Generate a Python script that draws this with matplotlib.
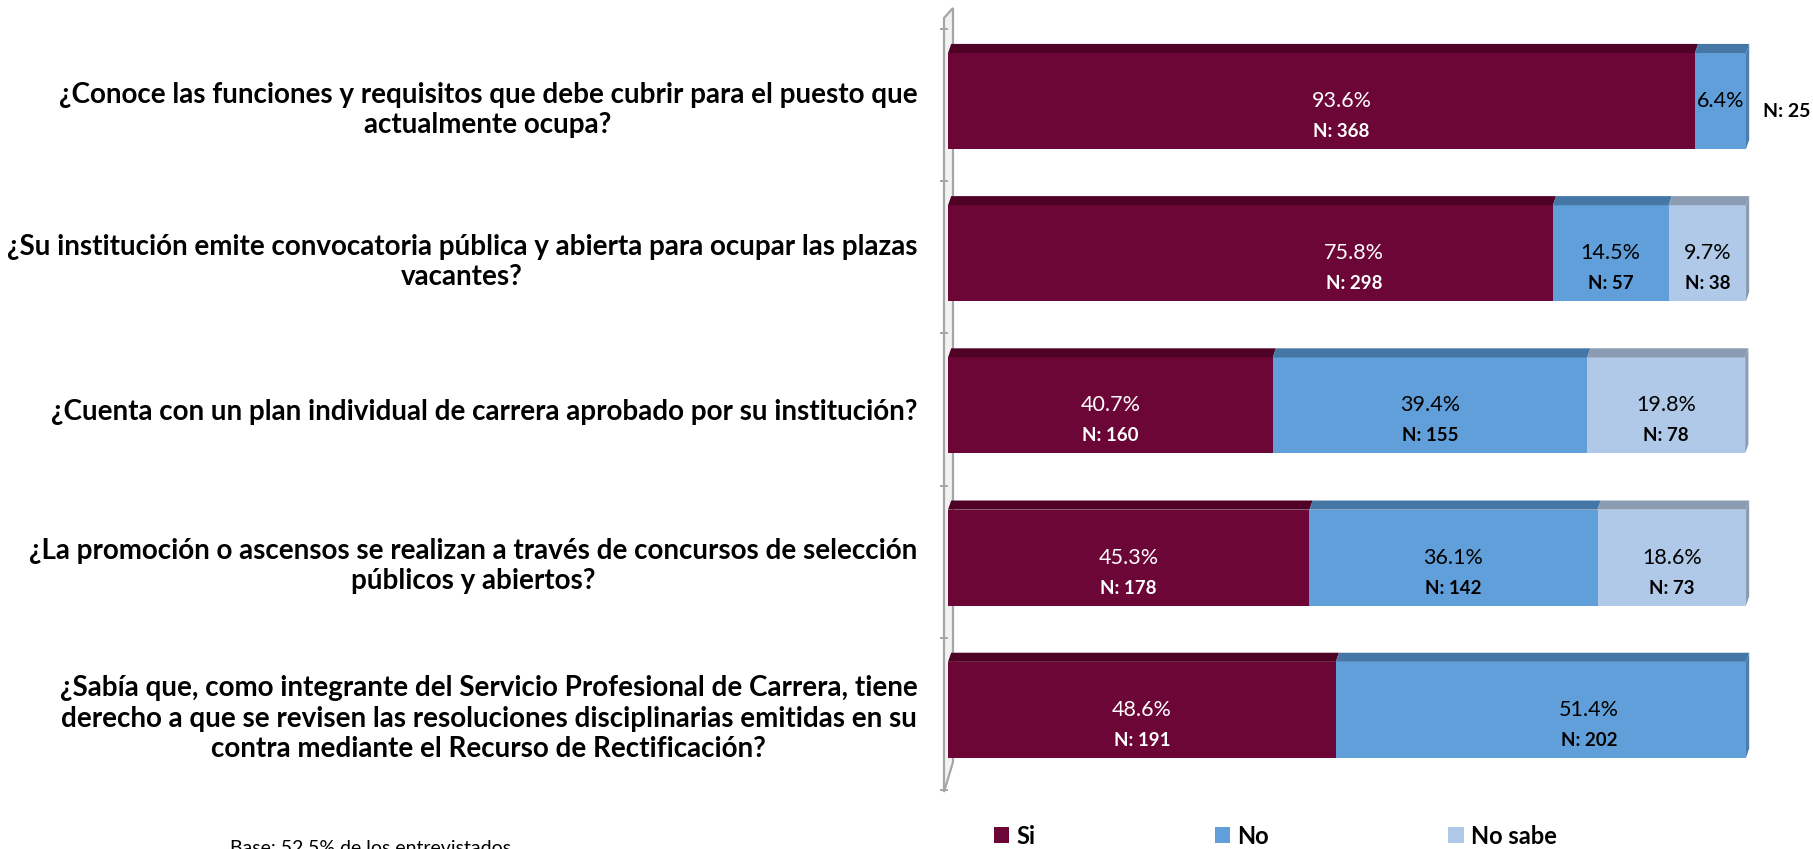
import matplotlib
matplotlib.use("Agg")
import matplotlib.pyplot as plt
from matplotlib.patches import Polygon, Patch
import numpy as np

# ---------------- data ----------------
questions = [
    "¿Conoce las funciones y requisitos que debe cubrir para el puesto que\nactualmente ocupa?",
    "¿Su institución emite convocatoria pública y abierta para ocupar las plazas\nvacantes?",
    "¿Cuenta con un plan individual de carrera aprobado por su institución?",
    "¿La promoción o ascensos se realizan a través de concursos de selección\npúblicos y abiertos?",
    "¿Sabía que, como integrante del Servicio Profesional de Carrera, tiene\nderecho a que se revisen las resoluciones disciplinarias emitidas en su\ncontra mediante el Recurso de Rectificación?",
]
series_names = ["Si", "No", "No sabe"]
pct_si = [93.6, 75.8, 40.7, 45.3, 48.6]
pct_no = [6.4, 14.5, 39.4, 36.1, 51.4]
pct_ns = [0.0, 9.7, 19.8, 18.6, 0.0]
n_si = [368, 298, 160, 178, 191]
n_no = [25, 57, 155, 142, 202]
n_ns = [0, 38, 78, 73, 0]
base_note = "Base: 52.5% de los entrevistados"

# ---------------- style ----------------
front_cols = ["#6C0636", "#619FDA", "#B1C9E8"]
top_cols = ["#4F0226", "#4577A6", "#8A9BB2"]
side_cols = ["#4F0226", "#4A7DB0", "#8A9BB2"]
text_cols = ["white", "black", "black"]
# manual label nudges (in % units) where the original labels were dragged
label_nudge = {(0, 0): 2.5, (1, 0): 13.0, (4, 1): 6.0}

plt.rcParams["font.family"] = ["Lato", "DejaVu Sans"]

W, H = 1813, 849
fig = plt.figure(figsize=(W / 100, H / 100), dpi=100)


def fx(x):
    return x / W


def fy(y):
    return 1 - y / H


ax_left, ax_right, ax_top, ax_bot = 948, 1746, 29, 790
ax = fig.add_axes([fx(ax_left), fy(ax_bot), (ax_right - ax_left) / W, (ax_bot - ax_top) / H])

# 3D-ish wall on the left (drawn behind the bars)
wall = Polygon([(fx(944), fy(792)), (fx(944), fy(18)), (fx(953), fy(8)), (fx(953), fy(762))],
               closed=True, facecolor="#F2F2F2", edgecolor="#A6A6A6", lw=1.6,
               transform=fig.transFigure, zorder=0)
fig.add_artist(wall)

ypos = np.arange(len(questions))
bar_h = 0.63
yoff = -0.027           # front face shift (depth)
dx = 0.4                # depth in x (% units)
dy = 0.06               # depth in y (category units)

data = [pct_si, pct_no, pct_ns]
ns = [n_si, n_no, n_ns]
left = np.zeros(len(questions))
for s in range(3):
    vals = np.array(data[s])
    yc = ypos + yoff
    ax.barh(yc, vals, left=left, height=bar_h, color=front_cols[s], edgecolor="none", zorder=3)
    for i, v in enumerate(vals):
        if v <= 0:
            continue
        x0, x1 = left[i], left[i] + v
        ytop = yc[i] - bar_h / 2
        ybot = yc[i] + bar_h / 2
        ax.add_patch(Polygon([(x0, ytop), (x1, ytop), (x1 + dx, ytop - dy), (x0 + dx, ytop - dy)],
                             closed=True, facecolor=top_cols[s], edgecolor="none", zorder=3,
                             clip_on=False))
        # right side face for the last segment
        is_last = all(data[k][i] <= 0 for k in range(s + 1, 3))
        if is_last:
            ax.add_patch(Polygon([(x1, ytop), (x1 + dx, ytop - dy), (x1 + dx, ybot - dy), (x1, ybot)],
                                 closed=True, facecolor=side_cols[s], edgecolor="none", zorder=3,
                                 clip_on=False))
        cx = (x0 + x1) / 2 + label_nudge.get((i, s), 0.0)
        ax.text(cx, yc[i], f"{v:.1f}%", ha="center", va="center", fontsize=15.5,
                color=text_cols[s], zorder=5)
        if v < 8 and is_last:
            ax.text(100 + 5.1, yc[i] + 0.07, f"N: {ns[s][i]}", ha="center", va="center",
                    fontsize=14, fontweight="bold", color="black", zorder=5, clip_on=False)
        else:
            ax.text(cx, yc[i] + 0.2, f"N: {ns[s][i]}", ha="center", va="center",
                    fontsize=13.5, fontweight="bold", color=text_cols[s], zorder=5)
    left = left + vals

ax.set_xlim(0, 100)
ax.set_ylim(len(questions) - 0.5, -0.5)
ax.set_yticks(ypos)
ax.set_yticklabels(questions, fontsize=20, fontweight="bold", ha="right", multialignment="center")
ax.tick_params(axis="y", which="major", length=0, pad=22)
ax.set_yticks(np.arange(-0.5, len(questions)), minor=True)
ax.tick_params(axis="y", which="minor", length=6, width=1.4, color="#A6A6A6")
ax.set_xticks([])
for sp in ax.spines.values():
    sp.set_visible(False)
ax.patch.set_alpha(0)

handles = [Patch(facecolor=front_cols[k], edgecolor="none") for k in range(3)]
fig.legend(handles, series_names, loc="center left", bbox_to_anchor=(fx(994), fy(836)),
           ncol=3, frameon=False, prop={"weight": "bold", "size": 17},
           handlelength=0.65, handleheight=0.65, handletextpad=0.3, columnspacing=7.6,
           borderaxespad=0, borderpad=0)

fig.text(fx(230), fy(840), base_note, ha="left", va="top", fontsize=14)

fig.savefig("out.png", dpi=100)
